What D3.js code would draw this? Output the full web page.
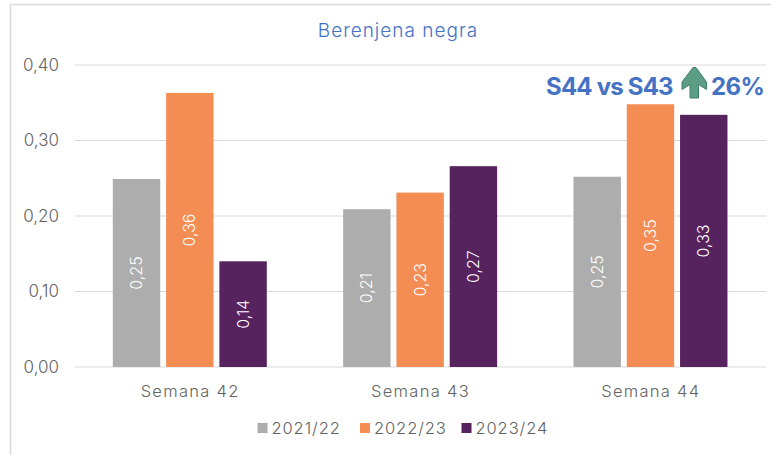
<!DOCTYPE html>
<html><head><meta charset="utf-8">
<script src="https://cdn.jsdelivr.net/npm/d3@7"></script>
<style>html,body{margin:0;padding:0;background:#fff}svg{display:block}text{font-family:Inter,sans-serif;font-weight:300}</style>
</head><body><svg id="c" width="771" height="455"></svg>
<script>
const weeks=["Semana 42","Semana 43","Semana 44"];
const seasons=["2021/22","2022/23","2023/24"];
const colors=["#ADADAD","#F38D54","#57235F"];
const v2122=[0.249,0.209,0.252];
const v2223=[0.363,0.231,0.348];
const v2324=[0.140,0.266,0.334];
const seriesValues=[v2122,v2223,v2324];
const yTicks=[0,0.1,0.2,0.3,0.4];
const title="Berenjena negra";
const noteLeft="S44 vs S43";
const noteRight="26%";

const svg=d3.select("#c");
const fmt=d3.formatLocale({decimal:",",thousands:".",grouping:[3],currency:["","€"]}).format(".2f");
const x=d3.scaleBand().domain(weeks).range([75,766]).padding(0);
const inner=d3.scaleBand().domain(seasons).range([37.8,191.8]).paddingInner(0.11).paddingOuter(0);
const y=d3.scaleLinear().domain([0,0.4]).range([367,65]);

// frame
svg.append("path").attr("d","M10.5,455V4.5H771").attr("fill","none").attr("stroke","#D9D9D9").attr("stroke-width",1.5);

// grid
svg.append("g").selectAll("line").data(yTicks).join("line")
 .attr("x1",75).attr("x2",766).attr("y1",d=>y(d)).attr("y2",d=>y(d))
 .attr("stroke","#D9D9D9").attr("stroke-width",1.2);

// y labels
svg.append("g").selectAll("text").data(yTicks).join("text")
 .attr("x",59).attr("y",d=>y(d)+5.5).attr("text-anchor","end")
 .attr("font-size",17).attr("fill","#636363").text(d=>fmt(d));

// bars
seasons.forEach((s,i)=>{
 const g=svg.append("g");
 g.selectAll("rect").data(seriesValues[i]).join("rect")
  .attr("x",(d,j)=>x(weeks[j])+inner(s)).attr("width",inner.bandwidth())
  .attr("y",d=>y(d)).attr("height",d=>y(0)-y(d)).attr("fill",colors[i]);
 g.selectAll("text").data(seriesValues[i]).join("text")
  .attr("transform",(d,j)=>`translate(${x(weeks[j])+inner(s)+inner.bandwidth()/2+5.5},${(y(d)+y(0))/2}) rotate(-90)`)
  .attr("text-anchor","middle").attr("font-size",16).attr("fill","#fff").text(d=>fmt(d));
});

// x labels
svg.append("g").selectAll("text").data(weeks).join("text")
 .attr("x",d=>x(d)+x.bandwidth()/2).attr("y",397).attr("text-anchor","middle")
 .attr("font-size",16.5).attr("letter-spacing",1.3).attr("fill","#636363").text(d=>d);

// legend
const legendX=d3.scaleOrdinal().domain(seasons).range([257.5,360,461.5]);
const lg=svg.append("g").selectAll("g").data(seasons).join("g").attr("transform",d=>`translate(${legendX(d)},0)`);
lg.append("rect").attr("y",423).attr("width",10).attr("height",10).attr("fill",(d,i)=>colors[i]);
lg.append("text").attr("x",14).attr("y",434).attr("font-size",16.5).attr("letter-spacing",0.9).attr("fill","#636363").text(d=>d);

// title
svg.append("text").attr("x",398).attr("y",37).attr("text-anchor","middle")
 .attr("font-size",19).attr("letter-spacing",1).attr("fill","#4472C4").text(title);

// annotation
const noteG=svg.append("g").attr("fill","#4472C4").attr("font-size",24);
noteG.append("text").attr("x",546).attr("y",95).style("font-weight",700).attr("letter-spacing",-0.8).text(noteLeft);
noteG.append("text").attr("x",711).attr("y",95).style("font-weight",700).attr("letter-spacing",-0.6).text(noteRight);
svg.append("path").attr("d","M693,67.5L696,67.5L706.5,82L706.5,89.5L698.5,84.5L698.5,98L690,98L690,84.5L682,89.5L682,82Z")
 .attr("fill","#5B9E85").attr("stroke","#3E7F6A").attr("stroke-width",1);
</script></body></html>
